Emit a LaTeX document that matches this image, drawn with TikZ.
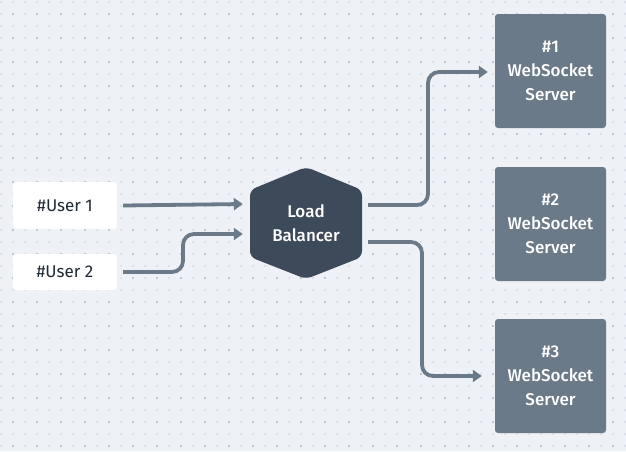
\documentclass[tikz,border=0pt]{standalone}
\usepackage{fontspec}
\setmainfont{Fira Sans}[BoldFont={Fira Sans Medium}]
\usetikzlibrary{arrows.meta,calc}
\definecolor{bg}{HTML}{EEF1F5}
\definecolor{dotlight}{HTML}{DCE1E7}
\definecolor{dotdark}{HTML}{BDC5CF}
\definecolor{srv}{HTML}{6B7A89}
\definecolor{hexc}{HTML}{3D4A5A}
\definecolor{txt}{HTML}{1F2933}
\tikzset{
  userbox/.style={draw=none,fill=white,rounded corners=3pt,minimum width=104pt,inner sep=0pt,text=txt,font=\fontsize{17}{24}\selectfont},
  srvbox/.style={draw=none,fill=srv,rounded corners=3pt,minimum width=111pt,minimum height=114pt,inner sep=0pt,text=white,align=center,font=\bfseries\fontsize{17}{24}\selectfont},
  conn/.style={draw=srv,line width=3.8pt,rounded corners=11pt,-{Triangle[length=9pt,width=12pt]}}
}
\begin{document}
\begin{tikzpicture}[x=1pt,y=-1pt]
\useasboundingbox (0,0) rectangle (626,451);
\fill[bg] (0,0) rectangle (626,451);
\foreach \i in {0,...,52}{
  \foreach \j in {0,...,37}{
    \fill[dotlight] ({0.7+12*\i-1},{1.7+12*\j-1}) rectangle ++(2,2);
  }
}
\foreach \i in {0,...,25}{
  \foreach \j in {0,...,18}{
    \fill[dotdark] ({12.7+24*\i-1},{13.7+24*\j-1}) rectangle ++(2,2);
  }
}
% users
\node[userbox,minimum height=47pt] (u1) at (65,205.5) {\#User 1};
\node[userbox,minimum height=36pt] (u2) at (65,272) {\#User 2};
% load balancer
\node[minimum width=112pt,minimum height=112pt,inner sep=0pt] (lb) at (306,223) {};
\fill[hexc,rounded corners=6pt] (306,167) -- (362,190) -- (362,257) -- (306,279) -- (250,257) -- (250,190) -- cycle;
\node[text=white,align=center,font=\bfseries\fontsize{17}{24}\selectfont] at (lb.center) {Load\\Balancer};
% servers
\node[srvbox] (s1) at (550.5,71) {\#1\\WebSocket\\Server};
\node[srvbox] (s2) at (550.5,224) {\#2\\WebSocket\\Server};
\node[srvbox] (s3) at (550.5,376) {\#3\\WebSocket\\Server};
% connectors
\draw[conn] ($(u1.east)+(6,0)$) -- ($(lb.west)+(-7,-19)$);
\draw[conn] ($(u2.east)+(6,0)$) -- (183,272) -- (183,234) -- ($(lb.west)+(-7,11)$);
\draw[conn] ($(lb.east)+(6,-18)$) -- (428,205) -- (428,72) -- ($(s1.west)+(-7,1)$);
\draw[conn] ($(lb.east)+(6,19)$) -- (422,242) -- (422,376) -- ($(s3.west)+(-13,0)$);
\end{tikzpicture}
\end{document}
